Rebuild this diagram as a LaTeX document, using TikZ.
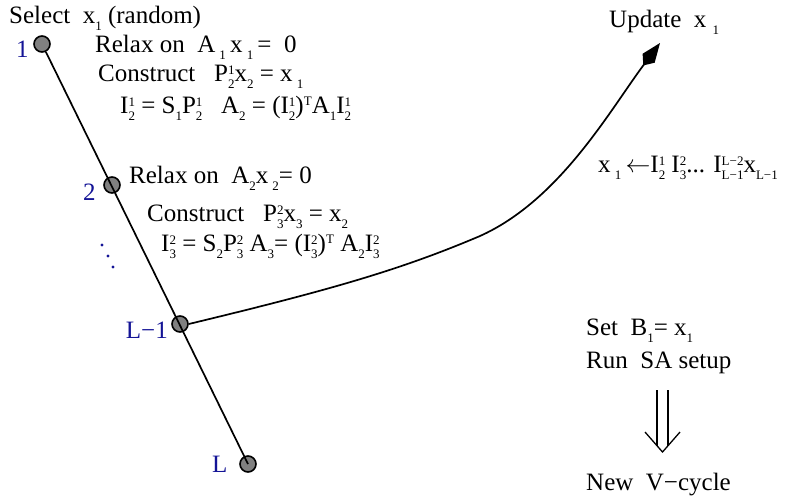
\documentclass[tikz,border=0pt]{standalone}
\usepackage{fontspec}
\setmainfont{Liberation Serif}
\usetikzlibrary{arrows.meta}
\definecolor{lvblue}{RGB}{20,20,150}
\newcommand\lo[1]{\raisebox{-0.3em}{\fontsize{13}{13}\selectfont #1}}
\newcommand\hi[1]{\raisebox{0.3em}{\fontsize{13}{13}\selectfont #1}}
\newcommand\lohi[2]{\raisebox{-0.3em}{\fontsize{13}{13}\selectfont\setlength\tabcolsep{0pt}\renewcommand\arraystretch{1.05}\begin{tabular}[b]{@{}l@{}}#2\\#1\end{tabular}}}
\tikzset{
  lev/.style={circle, draw, fill=gray, minimum size=16pt, inner sep=0pt, line width=1.6pt},
  txt/.style={anchor=base west, inner sep=0pt, font=\fontsize{25}{28}\selectfont},
  lbl/.style={txt, text=lvblue},
  conn/.style={line width=1.7pt}
}
\begin{document}
\begin{tikzpicture}[x=1pt,y=-1pt]
\useasboundingbox (0,0) rectangle (786,496);
% level nodes
\node[lev] (n1) at (42,44) {};
\node[lev] (n2) at (112,185) {};
\node[lev] (nL1) at (180,324) {};
\node[lev] (nL) at (248,464) {};
\draw[conn] (n1) -- (nL.center);
% level labels
\node[lbl] (l1) at (16,57) {1};
\node[lbl] (l2) at (83,200) {2};
\node[lbl, anchor=base east] (lL1) at (168,338) {L−1};
\node[lbl] (lL) at (212,472) {L};
\foreach \p in {(102,245),(108,256),(113,267)} \fill[lvblue] \p circle (1.7);
% texts
\node[txt] (t0) at (9,23) {Select~~x\lo{1} (random)};
\node[txt] (t1) at (95,52) {Relax on~~A\,\lo{1}\,x\,\lo{1}\,= ~0};
\node[txt] (t2) at (98,81) {Construct~~~P\lohi{2}{1}x\lo{2} = x\,\lo{1}};
\node[txt] (t3) at (120,113) {I\lohi{2}{1} = S\lo{1}P\lohi{2}{1}~~~A\lo{2} = (I\lohi{2}{1})\hi{T}A\lo{1}I\lohi{2}{1}};
\node[txt] (t4) at (129,183) {Relax on~~A\lo{2}x\,\lo{2}= 0};
\node[txt] (t5) at (147,221) {Construct~~~P\lohi{3}{2}x\lo{3} = x\lo{2}};
\node[txt] (t6) at (161,251) {I\lohi{3}{2} = S\lo{2}P\lohi{3}{2} A\lo{3}= (I\lohi{3}{2})\hi{T}~A\lo{2}I\lohi{3}{2}};
\node[txt] (up) at (609,27) {Update~~x~\lo{1}};
\node[txt] (fm) at (598,172) {x\,\lo{1}\,$\leftarrow$I\lohi{2}{1}~I\lohi{3}{2}... I\lohi{L−1}{L−2}x\lo{L−1}};
\node[txt] (s1) at (586,335) {Set~~B\lo{1}= x\lo{1}};
\node[txt] (s2) at (586,368) {Run~~SA setup};
\node[txt] (s3) at (586,490) {New~~V−cycle};
% double arrow
\draw[line width=1.3pt] (657,390) -- (657,446) (668,390) -- (668,446);
\draw[line width=1.3pt] (645,432) -- (662.5,452) -- (680,432);
% curve to update
\coordinate (tip) at (660,43);
\draw[conn, -{Kite[length=28pt,width=15pt,inset=9pt]}] (nL1.east) .. controls (330,290) and (400,270) .. (480,236) .. controls (560,200) and (610,110) .. (tip);
\end{tikzpicture}
\end{document}
